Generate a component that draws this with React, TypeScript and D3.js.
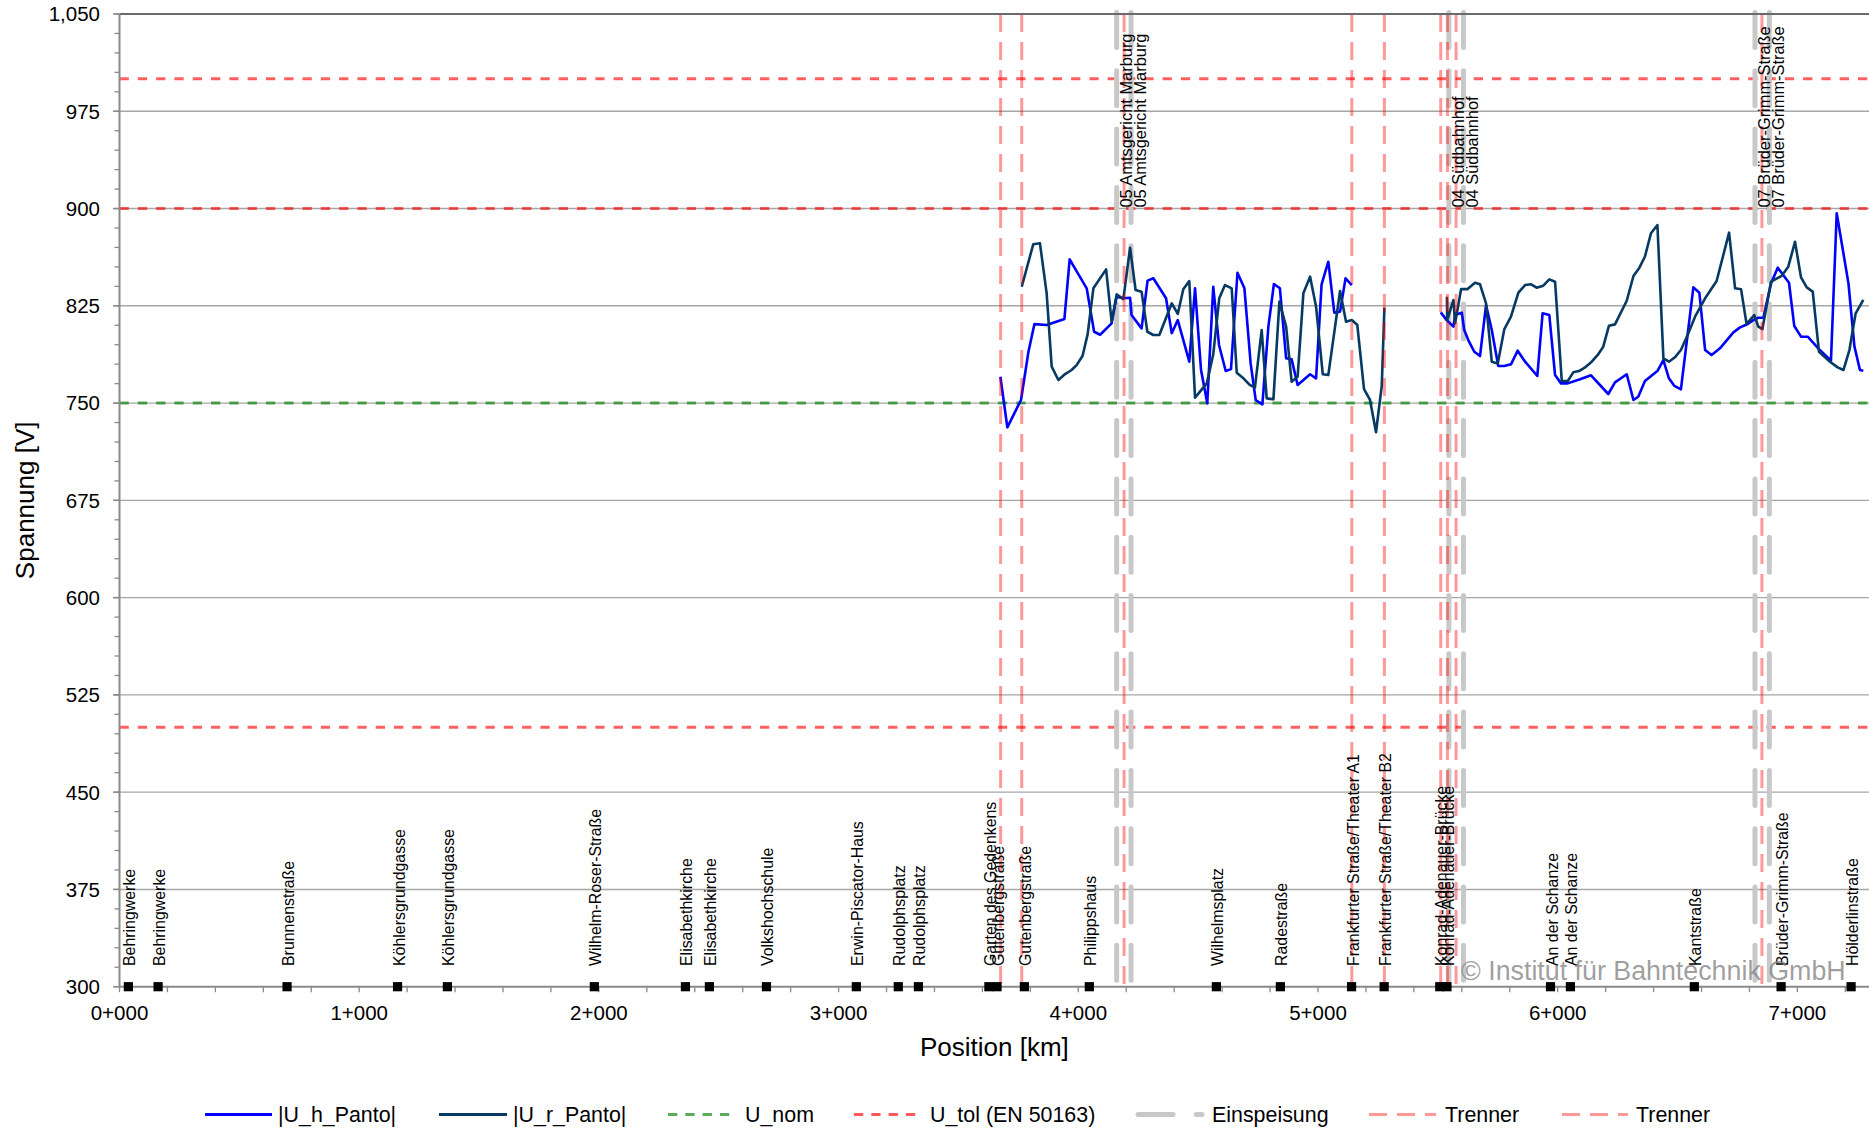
import React from 'react';
import * as d3 from 'd3';

// ---------- data ----------
const yMajorTicks = [300, 375, 450, 525, 600, 675, 750, 825, 900, 975, 1050];
const xMajorTicks = [0, 1, 2, 3, 4, 5, 6, 7];
const xTickLabels = ['0+000', '1+000', '2+000', '3+000', '4+000', '5+000', '6+000', '7+000'];

const stationNames = [
  'Behringwerke', 'Behringwerke', 'Brunnenstraße', 'Köhlersgrundgasse', 'Köhlersgrundgasse',
  'Wilhelm-Roser-Straße', 'Elisabethkirche', 'Elisabethkirche', 'Volkshochschule',
  'Erwin-Piscator-Haus', 'Rudolphsplatz', 'Rudolphsplatz', 'Garten des Gedenkens',
  'Gutenbergstraße', 'Gutenbergstraße', 'Philippshaus', 'Wilhelmsplatz', 'Radestraße',
  'Frankfurter Straße/Theater A1', 'Frankfurter Straße/Theater B2', 'Konrad-Adenauer-Brücke',
  'Konrad-Adenauer-Brücke', 'An der Schanze', 'An der Schanze', 'Kantstraße',
  'Brüder-Grimm-Straße', 'Hölderlinstraße',
];
const stationKm = [
  0.037, 0.161, 0.699, 1.160, 1.368, 1.981, 2.361, 2.461, 2.699, 3.074, 3.249, 3.333,
  3.627, 3.661, 3.775, 4.046, 4.576, 4.843, 5.140, 5.276, 5.508, 5.538, 5.970, 6.053,
  6.570, 6.932, 7.224,
];

const feedKm = [4.160, 4.220, 5.546, 5.607, 6.823, 6.883];
const feedNames = [
  '05 Amtsgericht Marburg', '05 Amtsgericht Marburg', '04 Südbahnhof', '04 Südbahnhof',
  '07 Brüder-Grimm-Straße', '07 Brüder-Grimm-Straße',
];
const trennerAKm = [3.676, 4.191, 5.141, 5.512, 5.576, 6.852];
const trennerBKm = [3.764, 5.277, 5.540];

const uNom = [750];
const uTol = [500, 900, 1000];

const uhPanto1: [number, number][] = [
  [3.675, 770.3], [3.704, 731.3], [3.761, 752.4], [3.792, 789.6], [3.817, 810.9], [3.868, 810.2],
  [3.942, 814.8], [3.964, 860.8], [4.035, 838.5], [4.066, 805.0], [4.091, 802.7], [4.139, 811.5],
  [4.160, 832.0], [4.188, 830.8], [4.216, 831.2], [4.222, 817.9], [4.264, 807.6], [4.289, 844.4],
  [4.313, 846.2], [4.366, 830.8], [4.390, 803.8], [4.415, 814.0], [4.463, 781.9], [4.487, 838.5],
  [4.512, 775.5], [4.538, 749.8], [4.563, 839.7], [4.587, 794.8], [4.615, 774.7], [4.637, 776.2],
  [4.664, 850.5], [4.693, 838.5], [4.719, 780.6], [4.740, 752.4], [4.768, 749.0], [4.793, 808.9],
  [4.816, 841.8], [4.841, 838.5], [4.867, 784.5], [4.890, 783.7], [4.915, 763.9], [4.967, 772.2],
  [4.992, 769.1], [5.015, 841.6], [5.043, 859.0], [5.068, 819.7], [5.092, 820.5], [5.115, 846.2],
  [5.141, 841.0],
];
const uhPanto2: [number, number][] = [
  [5.512, 819.9], [5.537, 814.0], [5.565, 808.9], [5.572, 818.0], [5.600, 819.7], [5.610, 806.3],
  [5.627, 798.6], [5.652, 789.6], [5.676, 786.3], [5.701, 825.6], [5.725, 806.3], [5.752, 778.6],
  [5.777, 778.6], [5.805, 779.9], [5.833, 790.4], [5.864, 781.9], [5.915, 770.9], [5.937, 819.2],
  [5.965, 817.9], [5.989, 771.6], [6.014, 765.2], [6.042, 765.2], [6.093, 768.3], [6.139, 771.4],
  [6.211, 757.0], [6.239, 766.0], [6.288, 772.2], [6.316, 752.4], [6.336, 754.9], [6.364, 767.0],
  [6.417, 775.0], [6.441, 783.2], [6.464, 769.1], [6.487, 763.2], [6.514, 760.6], [6.566, 839.2],
  [6.591, 835.1], [6.615, 790.9], [6.642, 787.1], [6.677, 792.2], [6.733, 804.5], [6.761, 808.4],
  [6.793, 811.0], [6.816, 814.0], [6.837, 815.8], [6.858, 815.8], [6.890, 842.3], [6.918, 854.4],
  [6.965, 842.8], [6.987, 809.4], [7.015, 801.2], [7.043, 801.2], [7.087, 792.2], [7.140, 782.7],
  [7.164, 896.3], [7.213, 842.3], [7.238, 793.5], [7.261, 775.5], [7.275, 775.0],
];
const urPanto1: [number, number][] = [
  [3.764, 839.7], [3.812, 872.4], [3.840, 873.2], [3.868, 834.6], [3.889, 778.1], [3.917, 767.8],
  [3.945, 772.4], [3.972, 775.5], [3.993, 779.3], [4.018, 786.5], [4.039, 803.2], [4.063, 838.5],
  [4.116, 853.1], [4.139, 812.8], [4.160, 833.8], [4.188, 830.2], [4.216, 869.8], [4.239, 837.2],
  [4.264, 835.9], [4.288, 805.0], [4.313, 802.5], [4.338, 802.5], [4.390, 826.9], [4.415, 818.7],
  [4.438, 837.7], [4.463, 844.1], [4.487, 754.2], [4.536, 765.2], [4.563, 787.6], [4.588, 830.8],
  [4.612, 841.0], [4.640, 838.5], [4.661, 773.4], [4.689, 769.1], [4.716, 763.9], [4.737, 762.1],
  [4.765, 806.3], [4.786, 753.6], [4.814, 752.9], [4.839, 828.2], [4.867, 808.9], [4.890, 766.5],
  [4.915, 770.4], [4.939, 834.6], [4.967, 847.5], [4.992, 824.3], [5.020, 772.2], [5.043, 771.6],
  [5.092, 836.4], [5.117, 812.8], [5.141, 814.0], [5.164, 810.2], [5.192, 760.8], [5.217, 752.4],
  [5.242, 727.5], [5.266, 763.2], [5.277, 823.6],
];
const urPanto2: [number, number][] = [
  [5.538, 832.0], [5.539, 814.0], [5.565, 829.5], [5.572, 811.5], [5.597, 837.9], [5.624, 837.9],
  [5.655, 842.8], [5.676, 841.6], [5.701, 826.9], [5.725, 781.9], [5.750, 780.6], [5.777, 806.8],
  [5.805, 816.6], [5.836, 835.1], [5.864, 841.0], [5.889, 841.6], [5.912, 839.0], [5.940, 840.5],
  [5.965, 845.4], [5.989, 843.6], [6.017, 767.0], [6.042, 767.0], [6.065, 773.7], [6.089, 774.7],
  [6.114, 777.5], [6.142, 781.9], [6.167, 787.1], [6.190, 793.5], [6.214, 809.7], [6.239, 810.7],
  [6.288, 828.9], [6.316, 848.0], [6.341, 854.4], [6.364, 863.0], [6.389, 880.9], [6.416, 887.3],
  [6.441, 784.5], [6.464, 781.9], [6.489, 785.3], [6.514, 790.9], [6.542, 802.5], [6.573, 816.6],
  [6.615, 830.8], [6.663, 844.1], [6.715, 881.4], [6.740, 838.5], [6.765, 837.7], [6.788, 811.0],
  [6.820, 817.9], [6.837, 808.9], [6.854, 807.1], [6.890, 843.6], [6.934, 848.0], [6.962, 855.2],
  [6.990, 874.4], [7.015, 846.9], [7.039, 839.2], [7.064, 835.9], [7.090, 789.6], [7.136, 781.9],
  [7.168, 777.5], [7.192, 775.5], [7.217, 790.9], [7.243, 819.2], [7.275, 829.5],
];

const legendLabels = ['|U_h_Panto|', '|U_r_Panto|', 'U_nom', 'U_tol (EN 50163)', 'Einspeisung', 'Trenner', 'Trenner'];

// ---------- styling ----------
const FONT = "'Liberation Sans', Arial, Helvetica, sans-serif";
const BLUE = '#0000FF';
const NAVY = '#073A63';
const AXIS = '#8A8A8A';
const GRID = '#A6A6A6';

export default function App() {
  const W = 1869;
  const H = 1130;
  const left = 119.5;
  const top = 14;
  const bottom = 986.7;
  const xMax = 7.3;
  const pxPerKm = 239.7;

  const x = d3.scaleLinear().domain([0, xMax]).range([left, left + xMax * pxPerKm]);
  const y = d3.scaleLinear().domain([300, 1050]).range([bottom, top]);
  const right = x(xMax);

  const line = d3
    .line<[number, number]>()
    .x((d) => x(d[0]))
    .y((d) => y(d[1]));

  const yMinor = d3.range(300, 1050 + 0.001, 15);
  const xMinor = d3.range(0, xMax + 0.0001, 0.2);
  const fmt = d3.format(',');

  const legendY = 1114.6;
  const legendItems = [
    { x0: 205, x1: 272, tx: 278, stroke: BLUE, w: 3, dash: undefined as string | undefined, op: 1, cap: 'butt' },
    { x0: 439, x1: 507, tx: 513, stroke: NAVY, w: 3, dash: undefined, op: 1, cap: 'butt' },
    { x0: 668, x1: 734, tx: 745, stroke: '#008000', w: 3, dash: '9.3 8', op: 0.65, cap: 'butt' },
    { x0: 854, x1: 920, tx: 930, stroke: '#FF0000', w: 3, dash: '9.3 8', op: 0.65, cap: 'butt' },
    { x0: 1138, x1: 1202, tx: 1212, stroke: '#C8C8C8', w: 5, dash: '35 23.3', op: 1, cap: 'round' },
    { x0: 1369, x1: 1436, tx: 1445, stroke: '#FF0000', w: 3, dash: '18 10', op: 0.4, cap: 'butt' },
    { x0: 1562, x1: 1628, tx: 1636, stroke: '#FF0000', w: 3, dash: '18 10', op: 0.4, cap: 'butt' },
  ];

  return (
    <svg
      width={W}
      height={H}
      viewBox={`0 0 ${W} ${H}`}
      style={{ position: 'absolute', left: 0, top: 0, background: '#fff' }}
      fontFamily={FONT}
    >
      <rect x={0} y={0} width={W} height={H} fill="#fff" />

      {/* gridlines */}
      {yMajorTicks
        .filter((v) => v !== 300 && v !== 1050)
        .map((v) => (
          <line key={`g${v}`} x1={left} x2={right} y1={y(v)} y2={y(v)} stroke={GRID} strokeWidth={1.4} />
        ))}

      {/* U_nom / U_tol */}
      {uNom.map((v) => (
        <line key={`n${v}`} x1={left} x2={right} y1={y(v)} y2={y(v)} stroke="#008000" strokeOpacity={0.65} strokeWidth={3} strokeDasharray="9.3 9" />
      ))}
      {uTol.map((v) => (
        <line key={`t${v}`} x1={left} x2={right} y1={y(v)} y2={y(v)} stroke="#FF0000" strokeOpacity={0.62} strokeWidth={3} strokeDasharray="9.3 9" />
      ))}

      {/* Einspeisung */}
      {feedKm.map((k, i) => (
        <line key={`f${i}`} x1={x(k)} x2={x(k)} y1={top - 1.5} y2={bottom} stroke="#C8C8C8" strokeWidth={5} strokeDasharray="35 23.3" strokeLinecap="round" />
      ))}

      {/* series */}
      <path d={line(uhPanto1) || ''} fill="none" stroke={BLUE} strokeWidth={2.6} strokeLinejoin="round" />
      <path d={line(uhPanto2) || ''} fill="none" stroke={BLUE} strokeWidth={2.6} strokeLinejoin="round" />
      <path d={line(urPanto1) || ''} fill="none" stroke={NAVY} strokeWidth={2.6} strokeLinejoin="round" />
      <path d={line(urPanto2) || ''} fill="none" stroke={NAVY} strokeWidth={2.6} strokeLinejoin="round" />

      {/* Trenner */}
      {[...trennerAKm, ...trennerBKm].map((k, i) => (
        <line key={`tr${i}`} x1={x(k)} x2={x(k)} y1={top} y2={bottom} stroke="#FF0000" strokeOpacity={0.4} strokeWidth={3} strokeDasharray="18 10" />
      ))}

      {/* Einspeisung labels */}
      {feedKm.map((k, i) => (
        <text key={`fl${i}`} transform={`translate(${x(k) + 15},${y(900) - 1}) rotate(-90)`} fontSize={16.4} fill="#000">
          {feedNames[i]}
        </text>
      ))}

      {/* axes */}
      <line x1={left} x2={right} y1={top} y2={top} stroke="#6A6A6A" strokeWidth={2} />
      <line x1={left} x2={left} y1={top} y2={bottom} stroke={AXIS} strokeWidth={2} />
      <line x1={left} x2={right} y1={bottom} y2={bottom} stroke={AXIS} strokeWidth={2} />

      {yMinor.map((v) => (
        <line key={`ym${v}`} x1={left - 5} x2={left} y1={y(v)} y2={y(v)} stroke={AXIS} strokeWidth={1.3} />
      ))}
      {yMajorTicks.map((v) => (
        <g key={`yt${v}`}>
          <line x1={left - 6.5} x2={left} y1={y(v)} y2={y(v)} stroke={AXIS} strokeWidth={1.5} />
          <text x={100} y={y(v)} dy="0.36em" textAnchor="end" fontSize={20.5} fill="#000">
            {fmt(v)}
          </text>
        </g>
      ))}
      {xMinor.map((k, i) => (
        <line key={`xm${i}`} x1={x(k)} x2={x(k)} y1={bottom} y2={bottom + 5.5} stroke={AXIS} strokeWidth={1.3} />
      ))}
      {xMajorTicks.map((k, i) => (
        <text key={`xt${k}`} x={x(k)} y={1019.5} textAnchor="middle" fontSize={20.5} fill="#000">
          {xTickLabels[i]}
        </text>
      ))}

      <text x={(left + right) / 2} y={1056} textAnchor="middle" fontSize={26} fill="#000">
        Position [km]
      </text>
      <text transform={`translate(33.5,${(top + bottom) / 2}) rotate(-90)`} textAnchor="middle" fontSize={26} fill="#000">
        Spannung [V]
      </text>

      {/* stations */}
      {stationKm.map((k, i) => (
        <text key={`sl${i}`} transform={`translate(${x(k) + 7},966) rotate(-90)`} fontSize={15.9} fill="#000">
          {stationNames[i]}
        </text>
      ))}
      {stationKm.map((k, i) => (
        <rect key={`sm${i}`} x={x(k) - 4.6} y={bottom - 4.6} width={9.2} height={9.2} fill="#000" />
      ))}

      {/* watermark */}
      <text x={1461} y={980} fontSize={26.8} fill="#808080" fillOpacity={0.75}>
        © Institut für Bahntechnik GmbH
      </text>

      {/* legend */}
      {legendItems.map((it, i) => (
        <g key={`lg${i}`}>
          <line
            x1={it.x0}
            x2={it.x1}
            y1={legendY}
            y2={legendY}
            stroke={it.stroke}
            strokeOpacity={it.op}
            strokeWidth={it.w}
            strokeDasharray={it.dash}
            strokeLinecap={it.cap as any}
          />
          <text x={it.tx} y={legendY} dy="0.36em" fontSize={21.4} fill="#000">
            {legendLabels[i]}
          </text>
        </g>
      ))}
    </svg>
  );
}
